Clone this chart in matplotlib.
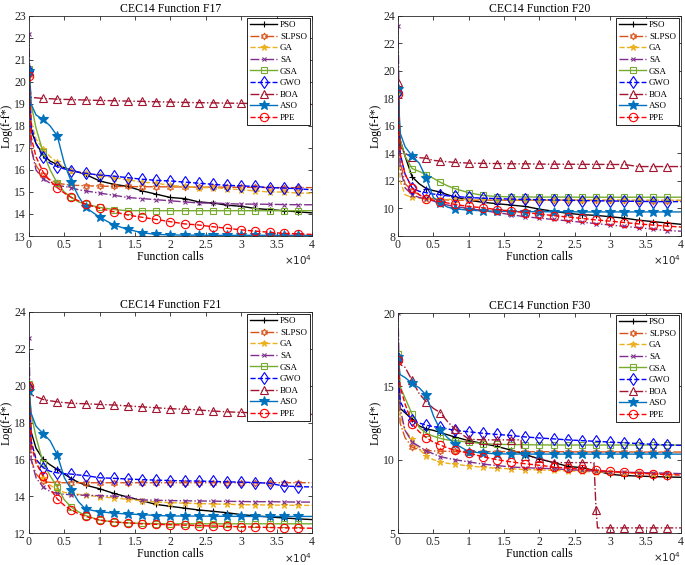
import matplotlib
matplotlib.use("Agg")
import matplotlib.pyplot as plt
from matplotlib.ticker import FuncFormatter

plt.rcParams['font.family'] = ['Liberation Serif', 'DejaVu Serif']

# function calls at which values were read
calls = [0, 300, 1000, 2000, 3000, 4000, 5000, 6000, 7000, 8000,
         10000, 12000, 14000, 16000, 18000, 20000, 22000, 24000,
         26000, 28000, 30000, 32000, 34000, 36000, 38000, 40000]

names = ['PSO', 'SLPSO', 'GA', 'SA', 'GSA', 'GWO', 'BOA', 'ASO', 'PPE']

# ---- F17
f17_pso = [20.4, 17.8, 17.2, 16.7, 16.4, 16.25, 16.1, 16.0, 15.9, 15.8,
           15.5, 15.35, 15.25, 15.05, 14.9, 14.75, 14.7, 14.55, 14.5, 14.4, 14.35, 14.25, 14.2, 14.15, 14.1, 14.05]
f17_slpso = [20.3, 17.0, 16.2, 15.75, 15.55, 15.4, 15.35, 15.3, 15.3, 15.28,
             15.27, 15.25, 15.25, 15.24, 15.24, 15.23, 15.23, 15.22, 15.22, 15.22, 15.21, 15.21, 15.2, 15.2, 15.2, 15.2]
f17_ga = [20.5, 18.2, 17.4, 16.95, 16.6, 16.35, 16.1, 15.95, 15.9, 15.85,
          15.75, 15.65, 15.55, 15.45, 15.4, 15.3, 15.25, 15.2, 15.2, 15.15, 15.1, 15.05, 15.0, 15.0, 14.95, 14.95]
f17_sa = [22.2, 17.0, 16.0, 15.6, 15.4, 15.3, 15.25, 15.2, 15.1, 15.05,
          14.95, 14.85, 14.75, 14.7, 14.65, 14.6, 14.55, 14.5, 14.5, 14.47, 14.45, 14.45, 14.44, 14.43, 14.42, 14.42]
f17_gsa = [20.6, 19.0, 17.9, 16.8, 16.0, 15.4, 15.0, 14.75, 14.55, 14.45,
           14.3, 14.2, 14.15, 14.15, 14.15, 14.15, 14.15, 14.15, 14.15, 14.15, 14.15, 14.15, 14.15, 14.15, 14.15, 14.15]
f17_gwo = [20.5, 18.0, 17.2, 16.6, 16.3, 16.15, 16.05, 15.97, 15.9, 15.85,
           15.77, 15.72, 15.65, 15.58, 15.53, 15.5, 15.45, 15.4, 15.35, 15.3, 15.28, 15.25, 15.2, 15.18, 15.15, 15.1]
f17_boa = [20.5, 19.3, 19.28, 19.25, 19.24, 19.22, 19.21, 19.2, 19.19, 19.18,
           19.16, 19.15, 19.13, 19.12, 19.1, 19.09, 19.07, 19.06, 19.05, 19.04, 19.03, 19.02, 19.01, 19.0, 19.0, 18.98]
f17_aso = [20.5, 19.0, 18.5, 18.3, 18.0, 17.55, 16.3, 15.45, 14.8, 14.3,
           13.85, 13.5, 13.3, 13.15, 13.07, 13.05, 13.04, 13.04, 13.03, 13.03, 13.03, 13.03, 13.03, 13.03, 13.03, 13.03]
f17_ppe = [20.25, 17.5, 16.6, 15.9, 15.5, 15.2, 14.95, 14.75, 14.6, 14.45,
           14.25, 14.1, 13.95, 13.85, 13.75, 13.65, 13.55, 13.5, 13.42, 13.35, 13.28, 13.22, 13.17, 13.12, 13.1, 13.07]

# ---- F20
f20_pso = [18.5, 15.0, 13.8, 12.3, 11.8, 11.45, 11.3, 11.2, 11.0, 10.85,
           10.6, 10.45, 10.35, 10.25, 10.15, 9.95, 9.8, 9.65, 9.55, 9.5, 9.4, 9.3, 9.15, 9.05, 8.95, 8.85]
f20_slpso = [18.5, 13.5, 11.8, 11.3, 11.0, 10.8, 10.7, 10.65, 10.62, 10.6,
             10.6, 10.6, 10.6, 10.6, 10.6, 10.6, 10.6, 10.6, 10.59, 10.59, 10.59, 10.59, 10.58, 10.58, 10.58, 10.58]
f20_ga = [18.5, 12.0, 11.0, 10.8, 10.75, 10.72, 10.7, 10.68, 10.67, 10.66,
          10.65, 10.65, 10.64, 10.64, 10.63, 10.63, 10.62, 10.62, 10.62, 10.61, 10.61, 10.61, 10.6, 10.6, 10.6, 10.6]
f20_sa = [23.3, 13.0, 11.5, 11.0, 10.8, 10.7, 10.55, 10.35, 10.25, 10.15,
          10.0, 9.85, 9.7, 9.55, 9.4, 9.3, 9.2, 9.1, 9.0, 8.9, 8.8, 8.7, 8.6, 8.5, 8.4, 8.35]
f20_gsa = [18.5, 15.0, 13.8, 12.9, 12.7, 12.45, 12.2, 11.9, 11.65, 11.45,
           11.15, 10.95, 10.87, 10.85, 10.84, 10.83, 10.83, 10.83, 10.82, 10.82, 10.82, 10.82, 10.82, 10.82, 10.82, 10.82]
f20_gwo = [18.5, 14.0, 12.5, 11.5, 11.25, 11.15, 11.05, 11.0, 10.92, 10.88,
           10.8, 10.75, 10.72, 10.68, 10.66, 10.64, 10.62, 10.6, 10.58, 10.56, 10.55, 10.53, 10.52, 10.5, 10.5, 10.5]
f20_boa = [19.2, 14.5, 14.0, 13.75, 13.7, 13.65, 13.5, 13.45, 13.4, 13.35,
           13.3, 13.28, 13.27, 13.25, 13.25, 13.23, 13.22, 13.22, 13.21, 13.21, 13.2, 13.2, 13.05, 13.05, 13.05, 13.05]
f20_aso = [18.7, 15.5, 14.5, 13.8, 13.3, 12.2, 10.8, 10.4, 10.1, 9.98,
           9.88, 9.83, 9.8, 9.78, 9.77, 9.77, 9.76, 9.76, 9.75, 9.75, 9.75, 9.75, 9.75, 9.75, 9.75, 9.75]
f20_ppe = [18.3, 14.0, 12.5, 11.5, 11.0, 10.7, 10.6, 10.5, 10.4, 10.3,
           10.15, 10.05, 9.92, 9.82, 9.7, 9.6, 9.48, 9.38, 9.28, 9.17, 9.08, 8.98, 8.88, 8.8, 8.72, 8.65]

# ---- F21
f21_pso = [19.9, 17.5, 16.6, 16.0, 15.7, 15.45, 15.2, 14.95, 14.75, 14.6,
           14.4, 14.15, 13.95, 13.75, 13.55, 13.45, 13.35, 13.25, 13.18, 13.1, 13.0, 12.93, 12.87, 12.82, 12.77, 12.73]
f21_slpso = [20.0, 16.0, 15.2, 14.8, 14.75, 14.73, 14.73, 14.73, 14.73, 14.73,
             14.73, 14.73, 14.73, 14.73, 14.73, 14.73, 14.73, 14.73, 14.73, 14.73, 14.73, 14.73, 14.73, 14.73, 14.73, 14.73]
f21_ga = [20.0, 17.0, 16.0, 15.0, 14.6, 14.35, 14.2, 14.15, 14.1, 14.05,
          13.98, 13.9, 13.83, 13.75, 13.68, 13.65, 13.62, 13.6, 13.58, 13.56, 13.54, 13.53, 13.52, 13.51, 13.5, 13.5]
f21_sa = [22.6, 16.0, 15.0, 14.5, 14.25, 14.15, 14.1, 14.08, 14.06, 14.05,
          14.03, 14.0, 13.95, 13.8, 13.78, 13.76, 13.75, 13.74, 13.73, 13.72, 13.71, 13.7, 13.7, 13.69, 13.68, 13.68]
f21_gsa = [20.1, 18.5, 17.2, 15.8, 15.1, 14.5, 13.8, 13.4, 13.15, 12.95,
           12.7, 12.6, 12.55, 12.52, 12.51, 12.5, 12.5, 12.5, 12.5, 12.5, 12.5, 12.5, 12.5, 12.5, 12.5, 12.5]
f21_gwo = [19.9, 17.0, 16.0, 15.55, 15.35, 15.27, 15.22, 15.2, 15.15, 15.12,
           15.0, 14.97, 14.93, 14.9, 14.87, 14.85, 14.83, 14.82, 14.8, 14.78, 14.76, 14.74, 14.7, 14.55, 14.52, 14.5]
f21_boa = [20.0, 19.5, 19.4, 19.25, 19.18, 19.12, 19.08, 19.05, 19.03, 19.02,
           18.98, 18.95, 18.9, 18.85, 18.8, 18.75, 18.72, 18.68, 18.62, 18.58, 18.55, 18.52, 18.5, 18.48, 18.46, 18.44]
f21_aso = [19.7, 18.5, 17.8, 17.4, 17.0, 16.25, 15.0, 14.35, 13.7, 13.3,
           13.15, 13.08, 13.03, 13.0, 12.95, 12.93, 12.92, 12.92, 12.91, 12.91, 12.9, 12.9, 12.9, 12.9, 12.9, 12.9]
f21_ppe = [20.0, 16.8, 15.8, 15.1, 14.4, 13.85, 13.5, 13.25, 13.05, 12.9,
           12.7, 12.6, 12.55, 12.5, 12.47, 12.45, 12.43, 12.4, 12.38, 12.36, 12.34, 12.32, 12.3, 12.28, 12.27, 12.26]

# ---- F30
f30_pso = [16.9, 13.5, 13.2, 12.75, 12.3, 12.1, 12.0, 11.85, 11.7, 11.55,
           11.3, 11.1, 10.9, 10.65, 10.35, 10.05, 9.8, 9.55, 9.45, 9.25, 9.0, 8.92, 8.88, 8.85, 8.82, 8.8]
f30_slpso = [16.9, 12.5, 11.5, 10.85, 10.7, 10.62, 10.6, 10.58, 10.57, 10.56,
             10.55, 10.55, 10.55, 10.55, 10.54, 10.54, 10.54, 10.54, 10.53, 10.53, 10.53, 10.53, 10.52, 10.52, 10.52, 10.52]
f30_ga = [16.8, 13.0, 12.0, 11.4, 10.7, 10.25, 10.0, 9.85, 9.75, 9.7,
          9.57, 9.48, 9.42, 9.37, 9.33, 9.3, 9.27, 9.24, 9.2, 9.17, 9.14, 9.11, 9.08, 9.05, 9.02, 9.0]
f30_sa = [20.0, 13.5, 12.0, 11.2, 10.9, 10.6, 10.4, 10.2, 10.1, 10.0,
          9.85, 9.7, 9.6, 9.5, 9.45, 9.42, 9.38, 9.32, 9.27, 9.22, 9.18, 9.15, 9.12, 9.1, 9.08, 9.05]
f30_gsa = [17.2, 15.0, 14.2, 13.1, 12.2, 11.8, 11.6, 11.45, 11.35, 11.3,
           11.2, 11.1, 11.05, 11.03, 11.02, 11.01, 11.0, 11.0, 11.0, 11.0, 11.0, 11.0, 11.0, 11.0, 11.0, 11.0]
f30_gwo = [16.9, 14.0, 13.3, 12.7, 12.5, 12.35, 12.25, 12.2, 12.1, 12.0,
           11.9, 11.8, 11.72, 11.65, 11.55, 11.48, 11.42, 11.35, 11.3, 11.25, 11.2, 11.15, 11.1, 11.05, 11.0, 10.98]
f30_aso = [17.0, 15.8, 15.6, 15.2, 14.9, 14.4, 13.0, 12.0, 11.5, 11.1,
           10.55, 10.45, 10.4, 10.39, 10.38, 10.38, 10.38, 10.38, 10.38, 10.38, 10.38, 10.38, 10.38, 10.38, 10.38, 10.38]
f30_ppe = [16.8, 15.0, 13.8, 12.45, 11.9, 11.5, 11.2, 11.0, 10.8, 10.65,
           10.45, 10.2, 10.0, 9.85, 9.72, 9.62, 9.5, 9.42, 9.35, 9.28, 9.2, 9.14, 9.08, 9.03, 8.98, 8.95]
# BOA on F30 has two sudden drops, so it keeps its own sample positions
f30_boa_calls = [0, 300, 1000, 2000, 3000, 4000, 5000, 6000, 7000, 8000,
                 10000, 12000, 14000, 16000, 17400, 17500, 18000, 20000, 22000, 24000,
                 26000, 27700, 28000, 28200, 30000, 32000, 34000, 36000, 38000, 40000]
f30_boa = [16.9, 16.5, 16.3, 15.4, 14.5, 13.95, 13.5, 13.2, 12.6, 12.1,
           11.4, 11.35, 11.35, 11.35, 11.35, 10.3, 10.25, 10.1, 9.8, 9.8,
           9.8, 9.8, 6.6, 5.35, 5.35, 5.35, 5.35, 5.35, 5.35, 5.35]

styles = {
    'PSO':   dict(color='black', ls='-', marker='+', ms=5, mfc='none'),
    'SLPSO': dict(color='#D95319', ls='-.', marker=(6, 1, 0), ms=5, mfc='none'),
    'GA':    dict(color='#EDB120', ls='--', marker='*', ms=5, mfc='#EDB120'),
    'SA':    dict(color='#7E2F8E', ls='-.', marker='x', ms=3.5, mfc='none'),
    'GSA':   dict(color='#77AC30', ls='-', marker='s', ms=4.5, mfc='none'),
    'GWO':   dict(color='blue', ls='--', marker='d', ms=6, mfc='none'),
    'BOA':   dict(color='#A2142F', ls='-.', marker='^', ms=5.5, mfc='none'),
    'ASO':   dict(color='#0072BD', ls='-', marker='*', ms=7, mfc='#0072BD'),
    'PPE':   dict(color='red', ls='--', marker='o', ms=6, mfc='none'),
}

panels = [
    ('CEC14 Function F17', [f17_pso, f17_slpso, f17_ga, f17_sa, f17_gsa, f17_gwo, f17_boa, f17_aso, f17_ppe],
     (13, 23), list(range(13, 24)), [0.0423, 0.5823, 0.4131, 0.3894]),
    ('CEC14 Function F20', [f20_pso, f20_slpso, f20_ga, f20_sa, f20_gsa, f20_gwo, f20_boa, f20_aso, f20_ppe],
     (8, 24), list(range(8, 25, 2)), [0.581, 0.5823, 0.4131, 0.3894]),
    ('CEC14 Function F21', [f21_pso, f21_slpso, f21_ga, f21_sa, f21_gsa, f21_gwo, f21_boa, f21_aso, f21_ppe],
     (12, 24), list(range(12, 25, 2)), [0.0423, 0.0566, 0.4131, 0.3912]),
    ('CEC14 Function F30', [f30_pso, f30_slpso, f30_ga, f30_sa, f30_gsa, f30_gwo, f30_boa, f30_aso, f30_ppe],
     (5, 20), [5, 10, 15, 20], [0.581, 0.0566, 0.4131, 0.3894]),
]

fig = plt.figure(figsize=(6.85, 5.65), dpi=100)

for title, series, ylim, yticks, pos in panels:
    ax = fig.add_axes(pos)
    for name, vals in zip(names, series):
        xs = f30_boa_calls if vals is f30_boa else calls
        # markers every 2000 calls like the original figure
        mk = [i for i, c in enumerate(xs) if c % 2000 == 0 and c < 40000]
        st = styles[name]
        ax.plot(xs, vals, color=st['color'], linestyle=st['ls'], linewidth=1.0,
                marker=st['marker'], markersize=st['ms'], markerfacecolor=st['mfc'],
                markeredgewidth=0.8, markevery=mk, label=name)
    ax.set_xlim(0, 40000)
    ax.set_ylim(*ylim)
    ax.set_yticks(yticks)
    ax.set_xticks([0, 5000, 10000, 15000, 20000, 25000, 30000, 35000, 40000])
    ax.xaxis.set_major_formatter(FuncFormatter(lambda v, p: '%g' % (v / 10000)))
    ax.tick_params(direction='in', top=True, right=True, length=3, width=0.6,
                   labelsize=8.5, pad=2, colors='#262626')
    for s in ax.spines.values():
        s.set_linewidth(0.6)
        s.set_color('#262626')
    ax.set_title(title, fontsize=8.5, pad=3)
    ax.set_xlabel('Function calls', fontsize=8.5, labelpad=0)
    ax.set_ylabel('Log(f-f*)', fontsize=8.5, labelpad=1)
    ax.text(1.0, -0.08, r'$\times10^4$', transform=ax.transAxes, ha='right', va='top',
            fontsize=7.5, color='#262626')
    leg = ax.legend(loc='upper right', fontsize=6.5, frameon=True, fancybox=False,
                    edgecolor='black', framealpha=1, handlelength=3.0, handletextpad=0.3,
                    labelspacing=0.36, borderpad=0.3, borderaxespad=0.25)
    leg.get_frame().set_linewidth(0.6)

fig.savefig('out.png', dpi=100)
